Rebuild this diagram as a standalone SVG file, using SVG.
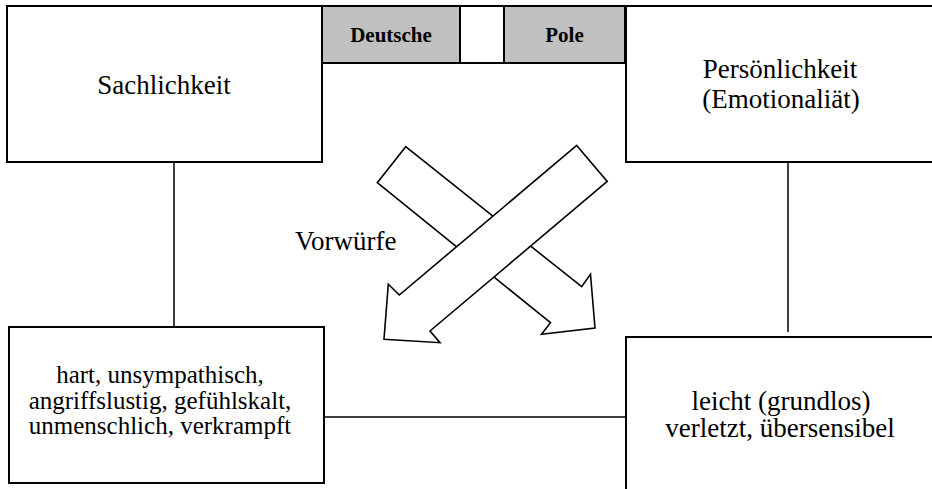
<svg xmlns="http://www.w3.org/2000/svg" width="932" height="489" viewBox="0 0 932 489">
<style>
.box{fill:#fff;stroke:#000;stroke-width:2}
.tab{fill:#c0c0c0;stroke:#000;stroke-width:2}
.t{font-family:"Liberation Serif","Times New Roman",serif;fill:#000;text-anchor:middle}
.big{font-size:27px}
.mid{font-size:25px}
.lbl{font-family:"Liberation Serif","Times New Roman",serif;font-weight:bold;font-size:21px;text-anchor:middle}
.conn{stroke:#000;stroke-width:1.5;fill:none}
.arrow{fill:#fff;stroke:#000;stroke-width:1.6;stroke-linejoin:miter}
</style>
<rect width="932" height="489" fill="#fff"/>
<g id="connectors">
<line class="conn" x1="174" y1="162" x2="174" y2="332"/>
<line class="conn" x1="788" y1="162" x2="788" y2="332"/>
<line class="conn" x1="324" y1="417" x2="626" y2="417"/>
</g>
<g id="header">
<rect class="box" x="322" y="6" width="304" height="57"/>
</g>
<g id="deutsche">
<rect class="tab" x="322" y="6" width="138" height="57"/>
<text class="lbl" x="391" y="42">Deutsche</text>
</g>
<g id="pole">
<rect class="tab" x="504" y="6" width="121" height="57"/>
<text class="lbl" x="564.5" y="42">Pole</text>
</g>
<g id="sachlichkeit">
<rect class="box" x="7" y="6" width="315" height="156"/>
<text class="t big" x="164" y="94">Sachlichkeit</text>
</g>
<g id="persoenlichkeit">
<rect class="box" x="626" y="6" width="310" height="156"/>
<text class="t big" x="780" y="78">Persönlichkeit</text>
<text class="t big" x="781" y="108">(Emotionaliät)</text>
</g>
<g id="hart">
<rect class="box" x="9" y="327" width="315" height="156"/>
<text class="t mid" x="160" y="383">hart, unsympathisch,</text>
<text class="t mid" x="160" y="408.5">angriffslustig, gefühlskalt,</text>
<text class="t mid" x="160" y="434">unmenschlich, verkrampft</text>
</g>
<g id="leicht">
<rect class="box" x="626" y="337" width="310" height="160"/>
<text class="t big" x="781" y="410">leicht (grundlos)</text>
<text class="t big" x="780" y="437">verletzt, übersensibel</text>
</g>
<g id="vorwuerfe">
<text class="t big" x="295" y="250" style="text-anchor:start">Vorwürfe</text>
<polygon class="arrow" points="405.7,146.7 377.3,182.7 550.5,322.7 541.5,334.3 595,328 590.5,274.2 581.7,286.7"/>
<polygon class="arrow" points="576.7,145.5 607.2,181.4 430,331 440,342.7 384,339.3 388.3,284.3 399.3,295"/>
</g>
</svg>
